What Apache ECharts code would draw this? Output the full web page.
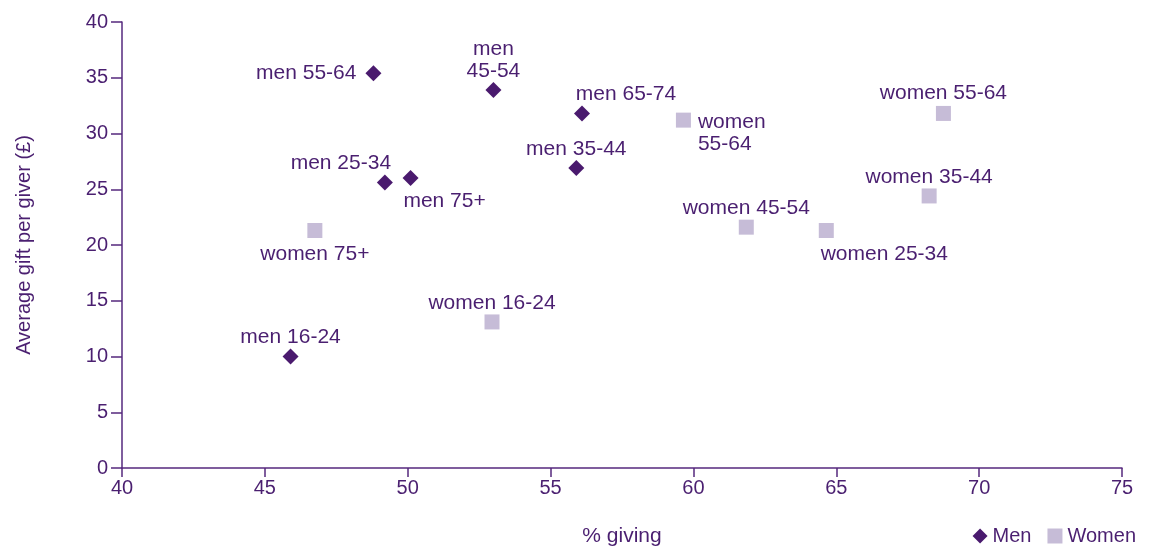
<!DOCTYPE html>
<html>
<head>
<meta charset="utf-8">
<script src="https://cdn.jsdelivr.net/npm/echarts@6/dist/echarts.min.js"></script>
<style>html,body{margin:0;padding:0;background:#fff}#c{width:1150px;height:552px}</style>
</head>
<body>
<div id="c"></div>
<script>
// ---- data ----
const menLabels = ["men 55-64", "men\n45-54", "men 65-74", "men 35-44", "men 25-34", "men 75+", "men 16-24"];
const menPctGiving = [48.8, 53.0, 56.1, 55.9, 49.2, 50.1, 45.9];
const menAvgGift = [35.4, 33.9, 31.8, 26.9, 25.6, 26.0, 10.0];

const womenLabels = ["women 75+", "women 16-24", "women\n55-64", "women 45-54", "women 25-34", "women 35-44", "women 55-64"];
const womenPctGiving = [46.75, 52.95, 59.65, 61.85, 64.65, 68.25, 68.75];
const womenAvgGift = [21.3, 13.1, 31.2, 21.6, 21.3, 24.4, 31.8];

const xTicks = [40, 45, 50, 55, 60, 65, 70, 75];
const yTicks = [0, 5, 10, 15, 20, 25, 30, 35, 40];

// ---- label placement (style only) ----
const menLabelPlace = [
  {position: 'left', distance: 9},
  {position: 'top', distance: 0},
  {position: 'top', distance: 0, offset: [44, 0]},
  {position: 'top', distance: 0},
  {position: 'top', distance: 0, offset: [-44, 0]},
  {position: 'bottom', distance: 4, offset: [34, 0]},
  {position: 'top', distance: 0}
];
const womenLabelPlace = [
  {position: 'bottom', distance: 5},
  {position: 'top', distance: 0},
  {position: 'right', distance: 7, offset: [0, 13]},
  {position: 'top', distance: 0},
  {position: 'bottom', distance: 5, offset: [58, 0]},
  {position: 'top', distance: 0},
  {position: 'top', distance: 2}
];

const TXT = '#4a1f70';
const AX = '#55287e';
const FONT = 'Liberation Sans, Arial, sans-serif';

function build(xs, ys, labels, places) {
  return xs.map((x, i) => ({
    value: [x, ys[i]],
    name: labels[i],
    label: Object.assign({show: true, formatter: labels[i]}, places[i])
  }));
}

const chart = echarts.init(document.getElementById('c'));
chart.setOption({
  animation: false,
  textStyle: {fontFamily: FONT},
  grid: {left: 122, right: 28, top: 22, bottom: 80, containLabel: false},
  legend: {
    right: 9, bottom: 1,
    itemWidth: 15, itemHeight: 15, itemGap: 16,
    textStyle: {color: TXT, fontSize: 20, fontFamily: FONT},
    data: [{name: 'Men', icon: 'diamond'}, {name: 'Women', icon: 'rect'}]
  },
  xAxis: {
    type: 'value', min: xTicks[0], max: xTicks[xTicks.length - 1], interval: 5,
    name: '% giving', nameLocation: 'middle', nameGap: 58,
    nameTextStyle: {color: TXT, fontSize: 21, fontFamily: FONT},
    axisLine: {show: true, lineStyle: {color: AX, width: 1.5}},
    axisTick: {show: true, length: 9, lineStyle: {color: AX, width: 1.5}},
    axisLabel: {color: TXT, fontSize: 20, margin: 10, fontFamily: FONT},
    splitLine: {show: false}
  },
  yAxis: {
    type: 'value', min: yTicks[0], max: yTicks[yTicks.length - 1], interval: 5,
    name: 'Average gift per giver (£)', nameLocation: 'middle', nameGap: 88,
    nameTextStyle: {color: TXT, fontSize: 20, fontFamily: FONT},
    axisLine: {show: true, lineStyle: {color: AX, width: 1.5}},
    axisTick: {show: true, length: 11, lineStyle: {color: AX, width: 1.5}},
    axisLabel: {color: TXT, fontSize: 20, margin: 14, fontFamily: FONT},
    splitLine: {show: false}
  },
  series: [
    {
      name: 'Men', type: 'scatter', symbol: 'diamond', symbolSize: 16,
      itemStyle: {color: '#4a1a6e', opacity: 1},
      label: {color: TXT, fontSize: 21, fontFamily: FONT, lineHeight: 22},
      emphasis: {disabled: true},
      data: build(menPctGiving, menAvgGift, menLabels, menLabelPlace)
    },
    {
      name: 'Women', type: 'scatter', symbol: 'rect', symbolSize: 15,
      itemStyle: {color: '#c6bcd7', opacity: 1},
      label: {color: TXT, fontSize: 21, fontFamily: FONT, lineHeight: 22},
      emphasis: {disabled: true},
      data: build(womenPctGiving, womenAvgGift, womenLabels, womenLabelPlace)
    }
  ]
});
</script>
</body>
</html>
